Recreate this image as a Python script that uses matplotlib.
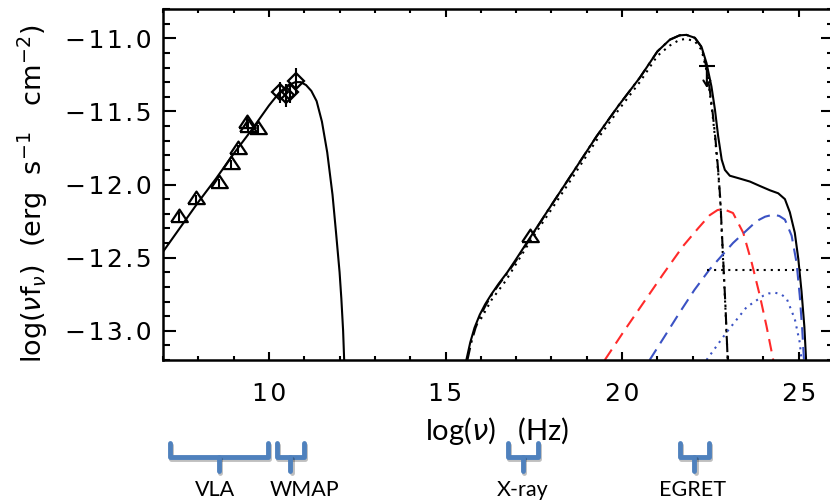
import numpy as np
import matplotlib
matplotlib.use('Agg')
import matplotlib.pyplot as plt
import matplotlib.patheffects as pe
from matplotlib.transforms import blended_transform_factory
from matplotlib.ticker import MultipleLocator, FuncFormatter

# measured points: log(nu) [Hz], log(nu f_nu) [erg s^-1 cm^-2]
vla_x = [7.45, 7.93, 8.58, 8.92, 9.12, 9.38, 9.42, 9.70]
vla_y = [-12.22, -12.10, -11.99, -11.86, -11.76, -11.58, -11.61, -11.62]
vla_err = [0.03, 0.03, 0.03, 0.03, 0.03, 0.04, 0.04, 0.03]

wmap_x = [10.30, 10.47, 10.60, 10.78]
wmap_y = [-11.37, -11.39, -11.37, -11.29]
wmap_err = [0.07, 0.08, 0.07, 0.09]

xray_x = [17.39]
xray_y = [-12.36]

# EGRET upper limit
ul_x = 22.40
ul_y = -11.19
ul_tip = -11.34

# synchrotron model
sync_x = [7.0, 7.5, 8.0, 8.5, 9.0, 9.5, 10.0, 10.3, 10.55, 10.75, 10.9, 11.05,
          11.2, 11.35, 11.5, 11.65, 11.8, 11.9, 12.0, 12.05, 12.1, 12.13]
sync_y = [-12.46, -12.29, -12.12, -11.96, -11.79, -11.63, -11.46, -11.37, -11.32,
          -11.30, -11.30, -11.32, -11.36, -11.43, -11.57, -11.78, -12.07, -12.33,
          -12.60, -12.78, -13.0, -13.2]

# total inverse compton
ic_x = [15.59, 15.70, 15.82, 15.97, 16.12, 16.30, 16.50, 16.75, 17.0, 17.39, 18.0,
        18.6, 19.27, 19.9, 20.5, 21.0, 21.35, 21.63, 21.82, 22.06, 22.25, 22.39,
        22.53, 22.63, 22.72, 22.82, 22.91, 23.05, 23.34, 23.62, 23.90, 24.19, 24.42,
        24.61, 24.75, 24.89, 24.99, 25.08, 25.16, 25.21]
ic_y = [-13.2, -13.08, -12.98, -12.89, -12.82, -12.75, -12.68, -12.60, -12.51,
        -12.365, -12.14, -11.92, -11.673, -11.46, -11.27, -11.09, -11.01, -10.98,
        -10.977, -10.997, -11.06, -11.17, -11.33, -11.49, -11.67, -11.83, -11.90,
        -11.94, -11.96, -11.98, -12.01, -12.04, -12.06, -12.10, -12.19, -12.33,
        -12.51, -12.73, -12.97, -13.2]

# SSC component (dash-dot)
ssc_x = [15.62, 15.73, 15.85, 16.0, 16.15, 16.32, 16.52, 16.77, 17.0, 17.39, 18.0,
         18.6, 19.27, 19.9, 20.5, 21.0, 21.35, 21.63, 21.82, 22.06, 22.25, 22.39,
         22.47, 22.56, 22.64, 22.72, 22.78, 22.86, 22.93, 22.99]
ssc_y = [-13.2, -13.08, -12.98, -12.89, -12.82, -12.75, -12.68, -12.60, -12.52,
         -12.37, -12.14, -11.92, -11.673, -11.46, -11.27, -11.09, -11.01, -10.98,
         -10.977, -10.997, -11.06, -11.20, -11.33, -11.50, -11.68, -11.90, -12.10,
         -12.50, -12.85, -13.2]

# second SSC curve (black dotted)
ssc2_x = [16.0, 16.3, 16.7, 17.39, 18.0, 18.6, 19.27, 19.9, 20.5, 21.0, 21.35,
          21.63, 21.82, 22.06, 22.25, 22.39, 22.47, 22.56, 22.64, 22.72, 22.78,
          22.86, 22.93, 22.99]
ssc2_y = [-12.92, -12.79, -12.66, -12.39, -12.17, -11.95, -11.70, -11.49, -11.30,
          -11.12, -11.05, -11.01, -11.005, -11.02, -11.08, -11.22, -11.35, -11.52,
          -11.70, -11.92, -12.12, -12.52, -12.87, -13.2]

# external compton components
ec_red_x = [19.51, 20.06, 20.60, 21.17, 21.73, 22.15, 22.48, 22.70, 22.86, 23.14,
            23.43, 23.67, 23.90, 24.09, 24.28]
ec_red_y = [-13.2, -13.0, -12.81, -12.61, -12.42, -12.30, -12.21, -12.175, -12.167,
            -12.195, -12.33, -12.535, -12.76, -12.97, -13.2]

ec_blue_x = [20.78, 21.2, 21.63, 22.05, 22.48, 23.14, 23.81, 24.05, 24.28, 24.45,
             24.61, 24.80, 24.94, 25.03, 25.10, 25.15]
ec_blue_y = [-13.2, -13.04, -12.875, -12.72, -12.58, -12.40, -12.25, -12.22, -12.206,
             -12.215, -12.24, -12.35, -12.535, -12.76, -12.99, -13.2]

ec_dot_x = [22.39, 22.96, 23.52, 24.0, 24.15, 24.33, 24.5, 24.66, 24.89, 25.03, 25.08]
ec_dot_y = [-13.2, -13.01, -12.84, -12.76, -12.745, -12.74, -12.75, -12.78, -12.92,
            -13.08, -13.2]

# sensitivity level
sens_x = [22.4, 25.4]
sens_y = [-12.585, -12.585]

# instrument bands
bands = ['VLA', 'WMAP', 'X-ray', 'EGRET']
band_lo = [7.19, 10.22, 16.76, 21.63]
band_hi = [9.96, 10.98, 17.61, 22.45]
band_text_x = [8.46, 11.0, 17.19, 22.0]


def spaced(v, pos):
    # IDL-like loose lettering for the tick numbers
    s = ('%.1f' % v).replace('-', '\u2212')
    return '\u200a'.join(s)


fig = plt.figure(figsize=(8.30, 5.03), dpi=100)
ax = fig.add_axes([163/830, 1-360/503, 671/830, 351/503])

lw = 1.5
ax.plot(sync_x, sync_y, color='black', lw=lw)
ax.plot(ic_x, ic_y, color='black', lw=lw)
ax.plot(ssc_x, ssc_y, color='black', lw=lw, dashes=(6, 2.5, 1.2, 2.5))
ax.plot(ssc2_x, ssc2_y, color='black', lw=lw, dashes=(1, 2.4))
ax.plot(ec_red_x, ec_red_y, color='#ff2a2a', lw=lw, dashes=(6, 3.5))
ax.plot(ec_blue_x, ec_blue_y, color='#3b52c4', lw=lw, dashes=(6, 3.5))
ax.plot(ec_dot_x, ec_dot_y, color='#3b52c4', lw=lw, dashes=(1, 2.4))
ax.plot(sens_x, sens_y, color='black', lw=lw, dashes=(1, 2.4))

tri = [(-1, -0.55), (1, -0.55), (0, 0.95), (-1, -0.55)]
ax.errorbar(vla_x, vla_y, yerr=vla_err, fmt='none', ecolor='black', elinewidth=1.5)
ax.plot(vla_x, vla_y, ls='none', marker=tri, ms=12, mfc='none', mec='black', mew=1.6)
ax.errorbar(wmap_x, wmap_y, yerr=wmap_err, fmt='none', ecolor='black', elinewidth=1.5)
ax.plot(wmap_x, wmap_y, ls='none', marker='D', ms=8, mfc='none', mec='black', mew=1.6)
ax.plot(xray_x, xray_y, ls='none', marker=tri, ms=12, mfc='none', mec='black', mew=1.6)

# upper limit with arrow
ax.plot([ul_x], [ul_y], ls='none', marker='_', ms=11, mec='black', mew=1.5)
ax.annotate('', xy=(ul_x, ul_tip), xytext=(ul_x, ul_y),
            arrowprops=dict(arrowstyle='->, head_length=0.4, head_width=0.25',
                            color='black', lw=1.5, shrinkA=0, shrinkB=0))

ax.set_xlim(7, 26)
ax.set_ylim(-13.2, -10.8)
ax.xaxis.set_major_locator(MultipleLocator(5))
ax.xaxis.set_minor_locator(MultipleLocator(1))
ax.yaxis.set_major_locator(MultipleLocator(0.5))
ax.yaxis.set_minor_locator(MultipleLocator(0.1))
ax.yaxis.set_major_formatter(FuncFormatter(spaced))
ax.xaxis.set_major_formatter(FuncFormatter(lambda v, p: '\u200a'.join('%d' % v)))

for s in ax.spines.values():
    s.set_linewidth(1.8)
ax.tick_params(axis='both', which='both', direction='in', top=True, right=True,
               width=1.5, labelsize=18)
ax.tick_params(axis='x', which='major', length=5.5, pad=16)
ax.tick_params(axis='x', which='minor', length=2.8)
ax.tick_params(axis='y', which='major', length=9.5, pad=8)
ax.tick_params(axis='y', which='minor', length=5)

fig.text(33/830, 1-194/503, r'log($\nu$f$_\nu$)  (erg  s$^{-1}$   cm$^{-2}$)',
         rotation=90, ha='center', va='center', fontsize=19.5)
fig.text(497/830, 1-431/503, r'log($\nu$)   (Hz)', ha='center', va='center',
         fontsize=21, family=['Lato', 'DejaVu Sans'])

# band brackets under the axis
tr = blended_transform_factory(ax.transData, fig.transFigure)
top, mid, bot = 1-443/503, 1-457/503, 1-471/503
shadow = [pe.SimpleLineShadow(offset=(1.2, -1.2), alpha=0.25), pe.Normal()]
for name, lo, hi, tx in zip(bands, band_lo, band_hi, band_text_x):
    c = (lo + hi) / 2
    ax.plot([lo, lo, hi, hi], [top, mid, mid, top], transform=tr, clip_on=False,
            color='#4f81bd', lw=3.5, solid_joinstyle='round', solid_capstyle='round',
            path_effects=shadow)
    ax.plot([c, c], [mid, bot], transform=tr, clip_on=False, color='#4f81bd', lw=3.5,
            solid_capstyle='round', path_effects=shadow)
    ax.text(tx, 1-490/503, name, transform=tr, ha='center', va='center',
            fontsize=15.5, family=['Lato', 'DejaVu Sans'])

fig.savefig('out.png', dpi=100)
